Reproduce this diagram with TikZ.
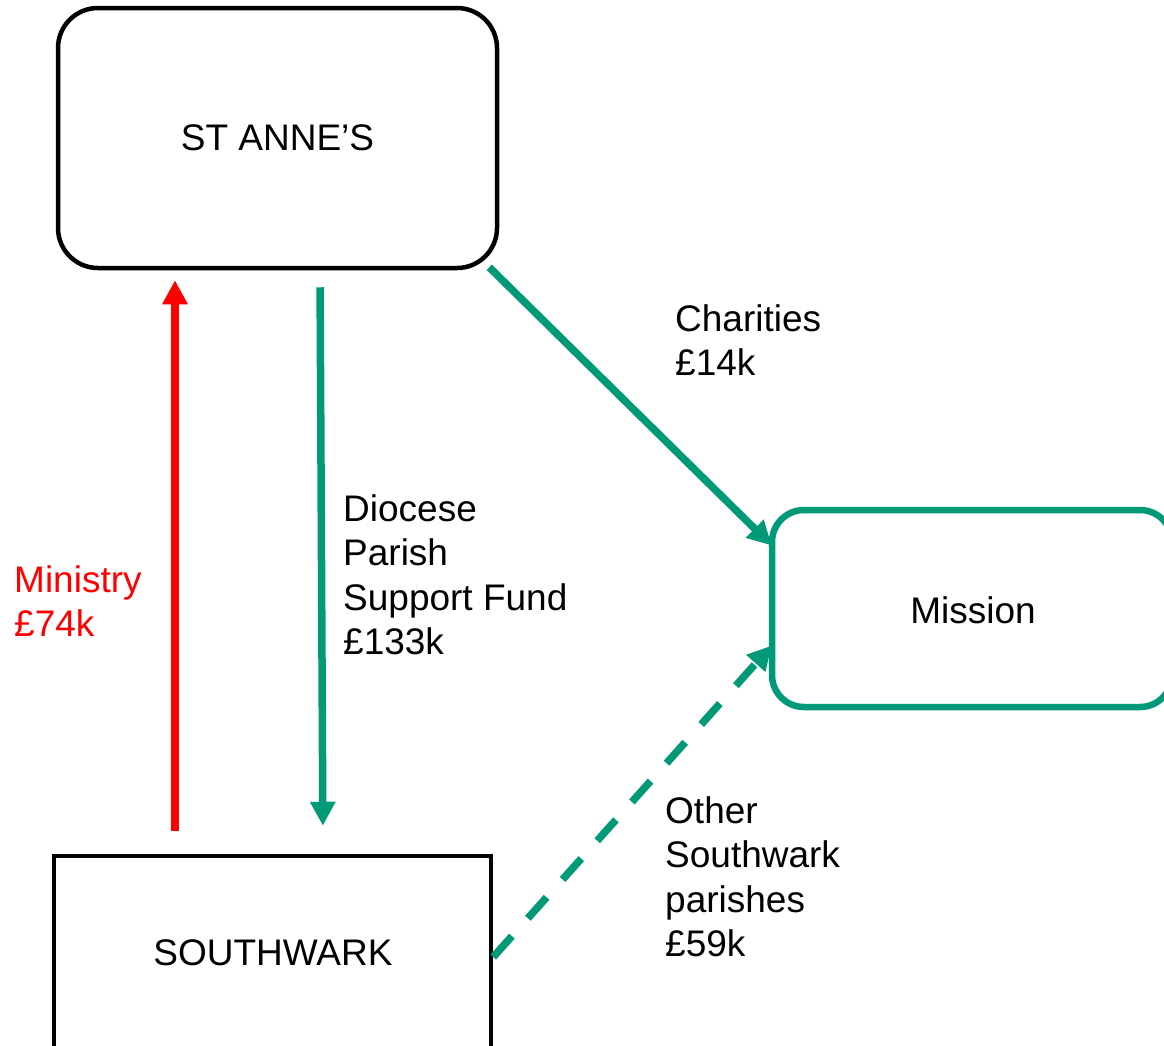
\documentclass[tikz,border=0pt]{standalone}
\usepackage{fontspec}
\setmainfont{Liberation Sans}
\usetikzlibrary{arrows.meta}
\definecolor{teal2}{RGB}{0,154,120}
\tikzset{
  lbl/.style={font=\fontsize{37}{44.5}\selectfont, align=left, anchor=north west, inner sep=0pt},
  boxtxt/.style={font=\fontsize{37}{44.5}\selectfont},
  arr/.style={line width=7.5pt, -{Triangle[length=24pt,width=24pt]}},
}
\begin{document}
\begin{tikzpicture}[x=1pt,y=-1pt]
\useasboundingbox (0,0) rectangle (1164,1045);
\node[draw, line width=4.5pt, rounded corners=40pt, minimum width=439pt, minimum height=260pt, boxtxt] (sa) at (277.5,138) {ST ANNE’S};
\node[draw=teal2, line width=6.5pt, rounded corners=32pt, minimum width=400pt, minimum height=197pt, inner sep=0pt] (mi) at (972,608.5) {};
\node[boxtxt] (mit) at (973,610) {Mission};
\node[draw, line width=4.5pt, minimum width=437pt, minimum height=200pt, inner sep=0pt] (sw) at (272.5,956) {};
\node[boxtxt] (swt) at (273,953) {SOUTHWARK};
% arrows
\draw[arr, red, shorten <=23pt, shorten >=10pt] ([xshift=-97.5pt]sw.north) -- ([xshift=-102.5pt]sa.south);
\draw[arr, teal2, shorten <=17pt, shorten >=28pt] ([xshift=42.5pt]sa.south) -- ([xshift=50.5pt]sw.north);
\draw[arr, teal2] ([xshift=-10pt,yshift=3pt]sa.south east) -- ([xshift=3pt,yshift=63pt]mi.west);
\draw[arr, teal2, dash pattern=on 28pt off 24pt] ([yshift=-1pt]sw.east) -- ([xshift=3pt,yshift=-37pt]mi.west);
% labels
\node[lbl] (l1) at (675,304) {Charities\\£14k};
\node[lbl] (l2) at (343,494) {Diocese\\Parish\\Support Fund\\£133k};
\node[lbl, text=red] (l3) at (14,565) {Ministry\\£74k};
\node[lbl] (l4) at (665,796) {Other\\Southwark\\parishes\\£59k};
\end{tikzpicture}
\end{document}
